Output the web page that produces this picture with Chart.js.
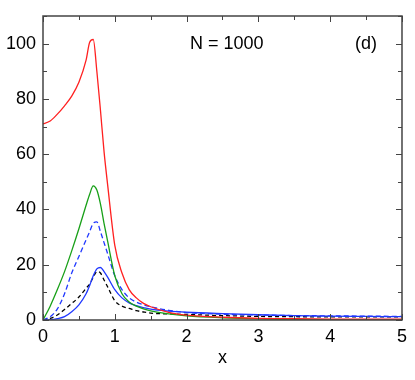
<!DOCTYPE html>
<html>
<head>
<meta charset="utf-8">
<script src="https://cdn.jsdelivr.net/npm/chart.js@4/dist/chart.umd.min.js"></script>
<style>
  html, body { margin: 0; padding: 0; background: #fff; }
  #wrap { width: 415px; height: 380px; }
</style>
</head>
<body>
<div id="wrap"><canvas id="curveChart"></canvas></div>
<script>
const xValues = [0, 0.1, 0.2, 0.3, 0.4, 0.5, 0.6, 0.65, 0.7, 0.75, 0.8, 0.85, 0.9, 1.0, 1.1, 1.2, 1.3, 1.4, 1.5, 1.75, 2, 2.5, 3, 3.5, 4, 4.5, 5];
const redValues = [71, 72, 74.5, 77.5, 81, 86, 94, 100.5, 101.5, 90, 76, 61, 49, 27, 17, 11, 8, 6, 4.8, 2.8, 1.8, 1, 0.6, 0.45, 0.35, 0.3, 0.3];
const greenValues = [0, 5, 11, 17.5, 25, 33, 41.5, 45.5, 48.5, 47, 42, 35, 28.5, 16, 9.5, 6.5, 5, 4, 3.3, 2.2, 1.5, 0.8, 0.4, 0.25, 0.15, 0.1, 0.1];
const blueDashValues = [0, 1.2, 4, 9.5, 17, 23, 29, 32, 35, 35.5, 32, 28, 24, 16, 11, 8, 6.5, 5.5, 4.8, 3.5, 2.7, 2.1, 1.8, 1.6, 1.5, 1.4, 1.3];
const blueValues = [0, 0.1, 0.5, 1.2, 3, 5.5, 9.5, 12.5, 16, 18.5, 19, 17.5, 15.5, 11, 8, 6.2, 5.2, 4.5, 3.9, 3.2, 2.8, 2.3, 1.9, 1.6, 1.4, 1.3, 1.2];
const blackDashValues = [0, 0.6, 1.8, 3.8, 6, 8.3, 11.5, 13, 15.5, 17.5, 17, 14.5, 12, 7, 5, 4.2, 3.4, 2.9, 2.5, 2.2, 2, 1.6, 1.3, 1.2, 1.1, 1.1, 1.1];
const xTicks = [0, 1, 2, 3, 4, 5];
const yTicks = [0, 20, 40, 60, 80, 100];

const FONT = "'Liberation Sans', Arial, sans-serif";

function points(ys) {
  return xValues.map((x, i) => ({ x: x, y: ys[i] }));
}

function line(label, ys, color, dash) {
  return {
    label: label,
    data: points(ys),
    borderColor: color,
    borderWidth: 1.3,
    borderDash: dash,
    pointRadius: 0,
    fill: false,
    cubicInterpolationMode: "monotone",
  };
}

const frameTicks = {
  id: "frameTicks",
  afterDraw(chart) {
    const ctx = chart.ctx;
    const a = chart.chartArea;
    const xs = chart.scales.x;
    const ys = chart.scales.y;
    ctx.save();
    ctx.strokeStyle = "#444";
    ctx.lineWidth = 1.5;
    ctx.strokeRect(a.left, a.top, a.right - a.left, a.bottom - a.top);
    ctx.lineWidth = 1;
    ctx.beginPath();
    for (let v = 0; v <= 5.001; v += 0.5) {
      const px = Math.round(xs.getPixelForValue(v)) + 0.5;
      const len = Math.abs(v - Math.round(v)) < 0.01 ? 6 : 4;
      ctx.moveTo(px, a.bottom); ctx.lineTo(px, a.bottom - len);
      ctx.moveTo(px, a.top); ctx.lineTo(px, a.top + len);
    }
    for (let v = 0; v <= 110; v += 10) {
      const py = Math.round(ys.getPixelForValue(v)) + 0.5;
      const len = v % 20 === 0 ? 6 : 4;
      ctx.moveTo(a.left, py); ctx.lineTo(a.left + len, py);
      ctx.moveTo(a.right, py); ctx.lineTo(a.right - len, py);
    }
    ctx.stroke();
    ctx.fillStyle = "#000";
    ctx.font = "18px " + FONT;
    ctx.textBaseline = "middle";
    ctx.textAlign = "left";
    ctx.fillText("N = 1000", 190, 44);
    ctx.fillText("(d)", 355, 44);
    ctx.restore();
  },
};

new Chart(document.getElementById("curveChart"), {
  type: "line",
  data: {
    datasets: [
      line("red", redValues, "#ff2020", []),
      line("green", greenValues, "#18a018", []),
      line("blue dashed", blueDashValues, "#2038ff", [5, 3]),
      line("blue", blueValues, "#2038ff", []),
      line("black dashed", blackDashValues, "#000000", [4, 3]),
    ],
  },
  options: {
    responsive: true,
    maintainAspectRatio: false,
    animation: false,
    layout: { padding: { top: 13, right: 10, left: 0, bottom: 0 } },
    plugins: { legend: { display: false }, tooltip: { enabled: false } },
    scales: {
      x: {
        type: "linear",
        min: 0,
        max: 5,
        grid: { display: false, drawTicks: false },
        border: { display: false },
        afterBuildTicks: (s) => { s.ticks = xTicks.map((v) => ({ value: v })); },
        afterFit: (s) => { s.height = 60; },
        ticks: { color: "#000", padding: 8, font: { family: FONT, size: 18, lineHeight: 1 } },
        title: { display: true, text: "x", color: "#000", padding: { top: 0, bottom: 13 }, font: { family: FONT, size: 18, lineHeight: 1 } },
      },
      y: {
        min: 0,
        max: 110,
        grid: { display: false, drawTicks: false },
        border: { display: false },
        afterBuildTicks: (s) => { s.ticks = yTicks.map((v) => ({ value: v })); },
        afterFit: (s) => { s.width = 43; },
        ticks: { color: "#000", padding: 7, font: { family: FONT, size: 18, lineHeight: 1 } },
      },
    },
  },
  plugins: [frameTicks],
});
</script>
</body>
</html>
